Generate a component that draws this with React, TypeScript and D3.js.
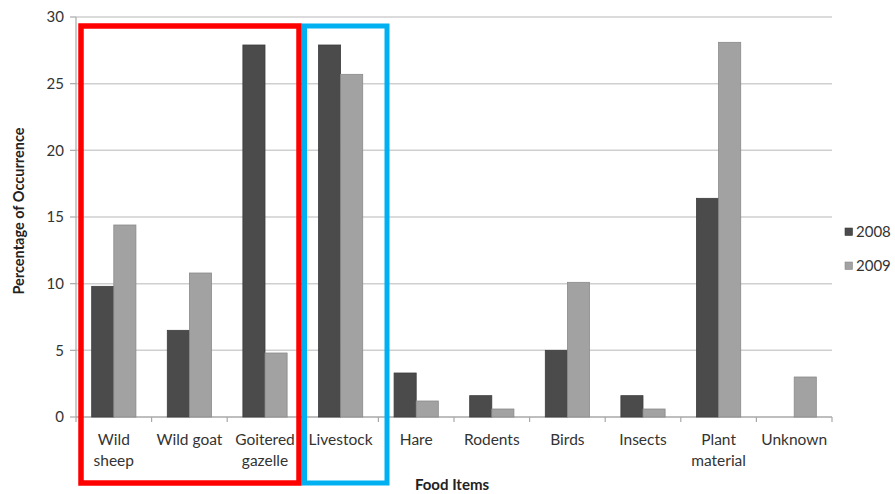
import React from "react";
import * as d3 from "d3";

const categories = ["Wild sheep", "Wild goat", "Goitered gazelle", "Livestock", "Hare", "Rodents", "Birds", "Insects", "Plant material", "Unknown"];
const categoryLines = [["Wild", "sheep"], ["Wild goat"], ["Goitered", "gazelle"], ["Livestock"], ["Hare"], ["Rodents"], ["Birds"], ["Insects"], ["Plant", "material"], ["Unknown"]];
const series = ["2008", "2009"];
const values2008 = [9.8, 6.5, 27.9, 27.9, 3.3, 1.6, 5.0, 1.6, 16.4, 0];
const values2009 = [14.4, 10.8, 4.8, 25.7, 1.2, 0.6, 10.1, 0.6, 28.1, 3.0];
const yTicks = [0, 5, 10, 15, 20, 25, 30];

const W = 895, H = 494;
const left = 76, right = 832, top = 17, bottom = 417;
const font = "Lato, 'Open Sans', sans-serif";
const fills = ["#4b4b4b", "#a2a2a2"];
const strokes = ["#3c3c3c", "#8a8a8a"];

export default function App() {
  const x = d3.scaleBand<string>().domain(categories).range([left, right]).paddingInner(0).paddingOuter(0);
  const y = d3.scaleLinear().domain([0, 30]).range([bottom, top]);
  const bw = x.bandwidth();
  const groupW = bw * 0.585;
  const xs = d3.scaleBand<string>().domain(series).range([0, groupW]);
  const data = [values2008, values2009];

  return (
    <svg width={W} height={H} style={{ position: "absolute", left: 0, top: 0, background: "#fff" }}>
      <rect x={0} y={0} width={W} height={H} fill="#fff" />
      {yTicks.map((t) => (
        <g key={t}>
          <line x1={left} x2={right} y1={y(t)} y2={y(t)} stroke={t === 0 ? "#a8a8a8" : "#cfcfcf"} strokeWidth={1.5} />
          <line x1={left - 6} x2={left} y1={y(t)} y2={y(t)} stroke="#a8a8a8" strokeWidth={1.2} />
          <text x={left - 12} y={y(t)} dy="0.35em" textAnchor="end" fontFamily={font} fontSize={15} fill="#333">{t}</text>
        </g>
      ))}
      <line x1={left} x2={left} y1={top} y2={bottom} stroke="#a8a8a8" strokeWidth={1.2} />
      {categories.map((c, i) => (
        <line key={"tk" + i} x1={(x(c) as number)} x2={(x(c) as number)} y1={bottom} y2={bottom + 5} stroke="#a8a8a8" strokeWidth={1.2} />
      ))}
      <line x1={right} x2={right} y1={bottom} y2={bottom + 5} stroke="#a8a8a8" strokeWidth={1.2} />
      {categories.map((c, i) => {
        const gx = (x(c) as number) + (bw - groupW) / 2;
        return (
          <g key={c}>
            {series.map((s, k) => {
              const v = data[k][i];
              if (v <= 0) return null;
              return (
                <rect key={s} x={gx + (xs(s) as number)} y={y(v)} width={xs.bandwidth()} height={y(0) - y(v)}
                  fill={fills[k]} stroke={strokes[k]} strokeWidth={0.8} />
              );
            })}
          </g>
        );
      })}
      {categories.map((c, i) => (
        <text key={"lb" + i} x={(x(c) as number) + bw / 2} y={445} textAnchor="middle" fontFamily={font} fontSize={15.5} fill="#333">
          {categoryLines[i].map((l, j) => (
            <tspan key={j} x={(x(c) as number) + bw / 2} dy={j === 0 ? 0 : 21}>{l}</tspan>
          ))}
        </text>
      ))}
      <text x={452} y={490} textAnchor="middle" fontFamily={font} fontWeight="bold" fontSize={15} fill="#222">Food Items</text>
      <text transform={`translate(24, 211) rotate(-90)`} textAnchor="middle" fontFamily={font} fontWeight="bold" fontSize={14.5} fill="#222">Percentage of Occurrence</text>
      {series.map((s, k) => (
        <g key={"lg" + s}>
          <rect x={845} y={228 + k * 34} width={7.5} height={7.5} fill={fills[k]} stroke={strokes[k]} strokeWidth={0.6} />
          <text x={856} y={232 + k * 34} dy="0.36em" fontFamily={font} fontSize={15} fill="#333">{s}</text>
        </g>
      ))}
      <rect x={81} y={26} width={218} height={457} fill="none" stroke="#ff0000" strokeWidth={5.5} />
      <rect x={304.5} y={26} width={82.5} height={457} fill="none" stroke="#00b0f0" strokeWidth={5} />
    </svg>
  );
}
